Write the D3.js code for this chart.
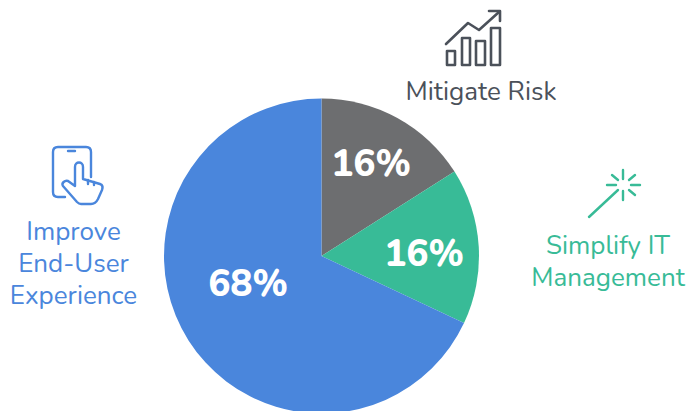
<!DOCTYPE html>
<html>
<head>
<meta charset="utf-8">
<script src="https://cdn.jsdelivr.net/npm/d3@7"></script>
<style>
  html, body { margin: 0; padding: 0; background: #fff; overflow: hidden; }
  text { font-family: "Nunito", "Lato", "Open Sans", sans-serif; }
</style>
</head>
<body>
<div id="pie"></div>
<script>
const categories = ["Mitigate Risk", "Simplify IT Management", "Improve End-User Experience"];
const values = [16, 16, 68];
const colors = ["#6d6e70", "#38bb97", "#4a86dc"];

function drawPie() {
  const width = 688, height = 411;
  const cx = 321.5, cy = 256, radius = 157.5;

  const svg = d3.select("#pie").append("svg")
    .attr("width", width)
    .attr("height", height);

  const pie = d3.pie().sort(null).value(d => d)(values);
  const arc = d3.arc().innerRadius(0).outerRadius(radius);

  const g = svg.append("g").attr("transform", `translate(${cx},${cy})`);

  g.selectAll("path")
    .data(pie)
    .enter()
    .append("path")
    .attr("d", arc)
    .attr("fill", (d, i) => colors[i]);

  // percent labels, hand placed relative to the pie centre
  const pctOffset = [[49.5, -93], [102.5, -3], [-73.5, 27]];
  g.selectAll(".pct")
    .data(pie)
    .enter()
    .append("text")
    .attr("class", "pct")
    .attr("x", (d, i) => pctOffset[i][0])
    .attr("y", (d, i) => pctOffset[i][1])
    .attr("text-anchor", "middle")
    .attr("dy", "0.36em")
    .attr("font-size", 37)
    .attr("font-weight", 800)
    .attr("fill", "#fff")
    .text(d => d.value + "%");

  // category captions
  const captionLines = [
    { i: 0, x: 481, y: 100, text: "Mitigate Risk" },
    { i: 1, x: 608, y: 254, text: "Simplify IT" },
    { i: 1, x: 608, y: 286, text: "Management" },
    { i: 2, x: 73.5, y: 240, text: "Improve" },
    { i: 2, x: 73.5, y: 272, text: "End-User" },
    { i: 2, x: 73.5, y: 304, text: "Experience" }
  ];
  const captionColors = ["#4b515a", "#38bb97", "#4a86dc"];
  svg.selectAll(".caption")
    .data(captionLines)
    .enter()
    .append("text")
    .attr("class", "caption")
    .attr("x", d => d.x)
    .attr("y", d => d.y)
    .attr("text-anchor", "middle")
    .attr("font-size", 26)
    .attr("fill", d => captionColors[d.i])
    .text(d => d.text);

  // icons
  const line = (paths, color, w) => svg.append("g")
    .attr("fill", "none")
    .attr("stroke", color)
    .attr("stroke-width", w)
    .attr("stroke-linecap", "round")
    .attr("stroke-linejoin", "round")
    .selectAll("path")
    .data(paths)
    .enter()
    .append("path")
    .attr("d", d => d);

  // chart icon
  line([
    "M447 51H455V65H447Z",
    "M462 38H470V65H462Z",
    "M476 41H485V65H476Z",
    "M491 28H500V65H491Z",
    "M446 44L468 23L479 30L499 12",
    "M489 11H500V21"
  ], "#4b515a", 2.6);

  // phone + finger icon
  line([
    "M65 197H58Q53 197 53 192V152Q53 147 58 147H86Q91 147 91 152V177",
    "M68 151H75",
    "M75 186V167C75 161 83 161 83 167V179L100 184C103 185 103 187 102 190L98 199C96 203 94 204 91 204H81C79 204 78 203 77 202L63 186C61 183 65 180 68 181L75 186",
    "M88 180V184M94 182V185"
  ], "#4a86dc", 2.4);

  // wand icon
  line([
    "M589 217L618 190",
    "M623 170V179", "M623 191V200",
    "M607 185H616", "M631 185H640",
    "M612 175L618 180", "M635 175L629 180", "M629 190L635 195"
  ], "#38bb97", 2.4);
}

drawPie();
</script>
</body>
</html>
